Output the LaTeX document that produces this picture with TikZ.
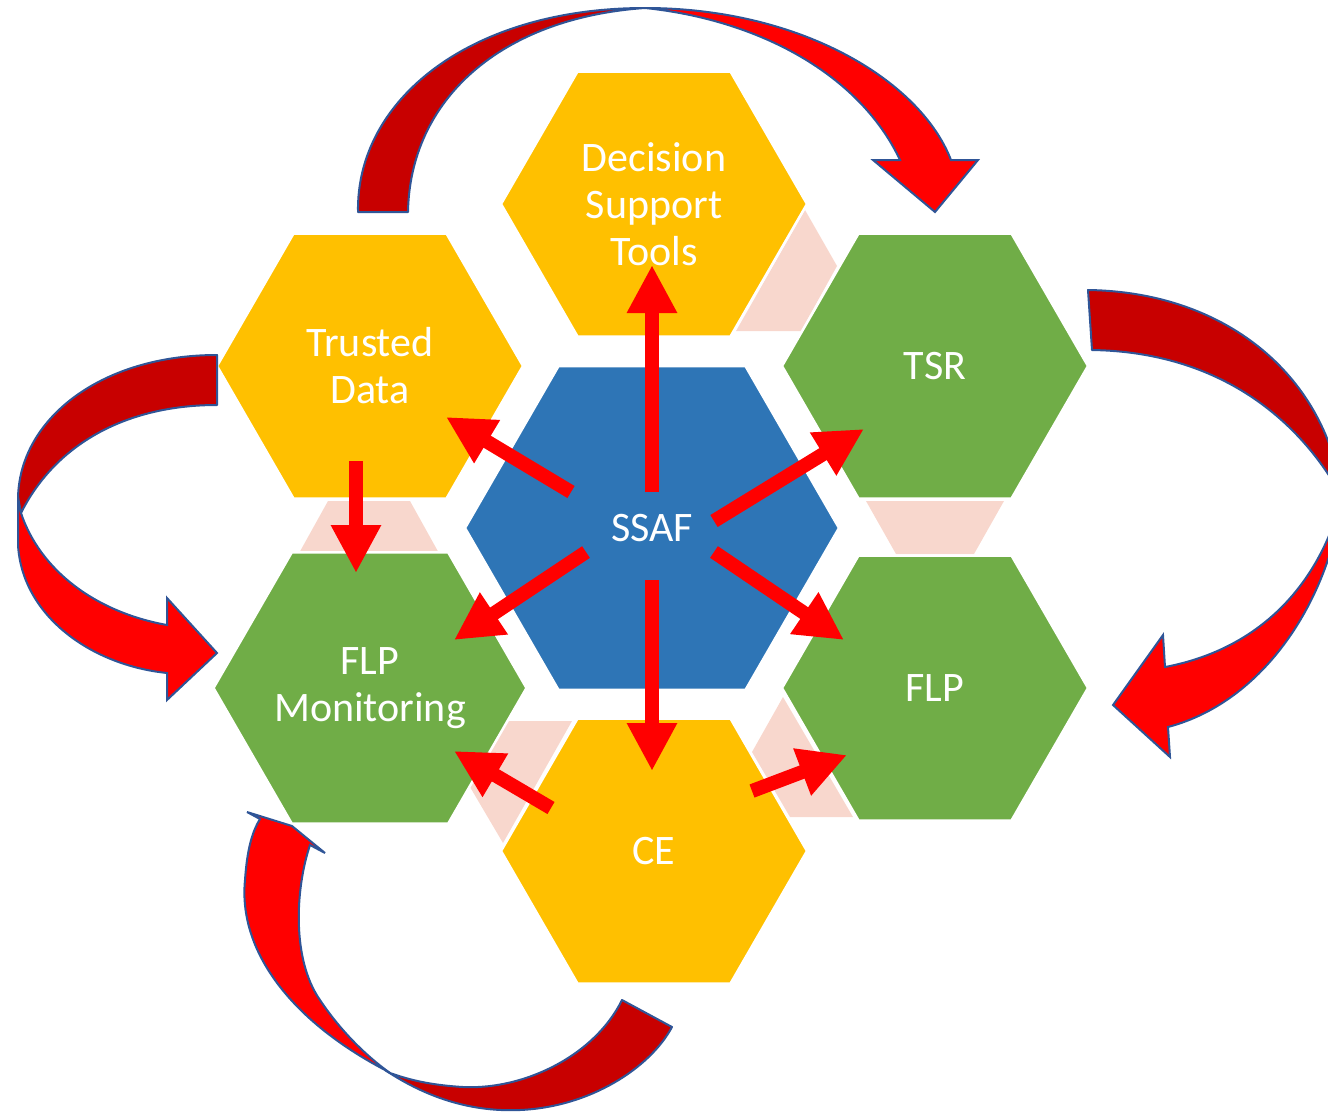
\documentclass[tikz,border=0pt]{standalone}
\usepackage{fontspec}
\setmainfont{Carlito}
\usetikzlibrary{shapes.geometric,arrows.meta}
\definecolor{hexyellow}{HTML}{FFC000}
\definecolor{hexgreen}{HTML}{70AD47}
\definecolor{hexblue}{HTML}{2E75B6}
\definecolor{pinkband}{HTML}{F8D7CD}
\definecolor{arrowred}{HTML}{FF0000}
\definecolor{darkred}{HTML}{C80000}
\definecolor{edgeblue}{HTML}{2F5597}
\begin{document}
\begin{tikzpicture}[x=1pt,y=-1pt,
  hexbox/.style={regular polygon, regular polygon sides=6, inner sep=0pt, outer sep=0pt,
    draw=white, line width=2.5pt, text=white, align=center,
    font=\fontsize{42}{47}\selectfont},
  smallhex/.style={hexbox, minimum size=306pt},
  bighex/.style={hexbox, minimum size=374pt},
  band/.style={fill=pinkband, draw=none},
  blockarrow/.style={draw=arrowred, line width=14pt, -{Triangle[length=48pt,width=47pt]}},
  twistback/.style={fill=darkred, draw=edgeblue, line width=2pt, line join=round},
  twistfront/.style={fill=arrowred, draw=edgeblue, line width=2pt, line join=miter},
]
\useasboundingbox (0,0) rectangle (1328,1112);
\clip (0,0) rectangle (1328,1112);

% pink bands
\fill[band] (328,501) -- (410,501) -- (440,555) -- (298,555) -- cycle;
\fill[band] (866,501) -- (1004,501) -- (974,554) -- (896,554) -- cycle;
\fill[band] (805,210) -- (837,266) -- (801,331) -- (736,331) -- cycle;
\fill[band] (505,721) -- (572,721) -- (503,843) -- (470,787) -- cycle;
\fill[band] (783,697) -- (752,752) -- (790,817) -- (853,817) -- cycle;

% hexagons
\node[smallhex, fill=hexyellow] (dst) at (654,204) {Decision\\Support\\Tools};
\node[smallhex, fill=hexyellow] (td) at (370,366) {Trusted\\Data};
\node[smallhex, fill=hexgreen] (tsr) at (935,366) {TSR};
\node[bighex, fill=hexblue] (ssaf) at (652,528) {SSAF};
\node[smallhex, fill=hexgreen] (flpm) at (370,688) {FLP\\Monitoring};
\node[smallhex, fill=hexgreen] (flp) at (935,688) {FLP};
\node[smallhex, fill=hexyellow] (ce) at (654,851) {CE};

% arrow end points
\coordinate (a1s) at (652,492); \coordinate (a1e) at (652,265);
\coordinate (a2s) at (571,492); \coordinate (a2e) at (446,417);
\coordinate (a3s) at (714,521); \coordinate (a3e) at (864,429);
\coordinate (a4s) at (586,552); \coordinate (a4e) at (454,640);
\coordinate (a5s) at (714,552); \coordinate (a5e) at (844,640);
\coordinate (a6s) at (652,580); \coordinate (a6e) at (652,771);
\coordinate (a7s) at (356,461); \coordinate (a7e) at (356,573);
\coordinate (a8s) at (551,808); \coordinate (a8e) at (454,751);
\coordinate (a9s) at (752,791); \coordinate (a9e) at (847,755);

\draw[blockarrow] (a1s) -- (a1e);
\draw[blockarrow] (a2s) -- (a2e);
\draw[blockarrow] (a3s) -- (a3e);
\draw[blockarrow] (a4s) -- (a4e);
\draw[blockarrow] (a5s) -- (a5e);
\draw[blockarrow] (a6s) -- (a6e);
\draw[blockarrow] (a7s) -- (a7e);
\draw[blockarrow] (a8s) -- (a8e);
\draw[blockarrow] (a9s) -- (a9e);

% top curved arrow: Trusted Data -> TSR
\draw[twistback] (358,212) .. controls (356,100) and (470,8) .. (645,8)
  .. controls (500,18) and (410,100) .. (408,212) -- cycle;
\draw[twistfront] (645,8) .. controls (800,8) and (920,80) .. (951,160)
  -- (978,160) -- (935,212) -- (873,160) -- (900,160)
  .. controls (860,75) and (760,20) .. (645,8) -- cycle;

% left curved arrow: Trusted Data -> FLP Monitoring
\draw[twistback] (217,355) .. controls (100,355) and (18,420) .. (18,500)
  -- (21,513) .. controls (55,445) and (125,405) .. (217,405) -- cycle;
\draw[twistfront] (18,497) -- (18,545) .. controls (22,615) and (90,665) .. (167,673)
  -- (167,700) -- (217,653) -- (167,598) -- (167,625)
  .. controls (95,612) and (40,570) .. (21,513) -- cycle;

% right curved arrow: TSR -> FLP
\draw[twistback] (1088,290) .. controls (1230,292) and (1328,380) .. (1342,497)
  .. controls (1300,420) and (1220,352) .. (1092,350) -- cycle;
\draw[twistfront] (1342,497) .. controls (1332,590) and (1270,700) .. (1168,727)
  -- (1170,757) -- (1113,705) -- (1163,635) -- (1165,667)
  .. controls (1255,650) and (1318,590) .. (1342,497) -- cycle;

% bottom curved arrow: CE -> FLP Monitoring
\draw[twistback] (385,1070) .. controls (430,1100) and (475,1112) .. (520,1110)
  .. controls (590,1107) and (650,1068) .. (672,1027) -- (622,1000)
  .. controls (595,1055) and (525,1090) .. (463,1087)
  .. controls (430,1085) and (410,1080) .. (390,1073) -- cycle;
\draw[twistfront] (385,1070) .. controls (290,1020) and (238,950) .. (245,880)
  .. controls (247,850) and (252,832) .. (260,819) -- (247,812) -- (292,826)
  -- (325,853) -- (310,845) .. controls (295,890) and (292,960) .. (320,1000)
  .. controls (340,1030) and (365,1055) .. (390,1073) -- cycle;
\end{tikzpicture}
\end{document}
